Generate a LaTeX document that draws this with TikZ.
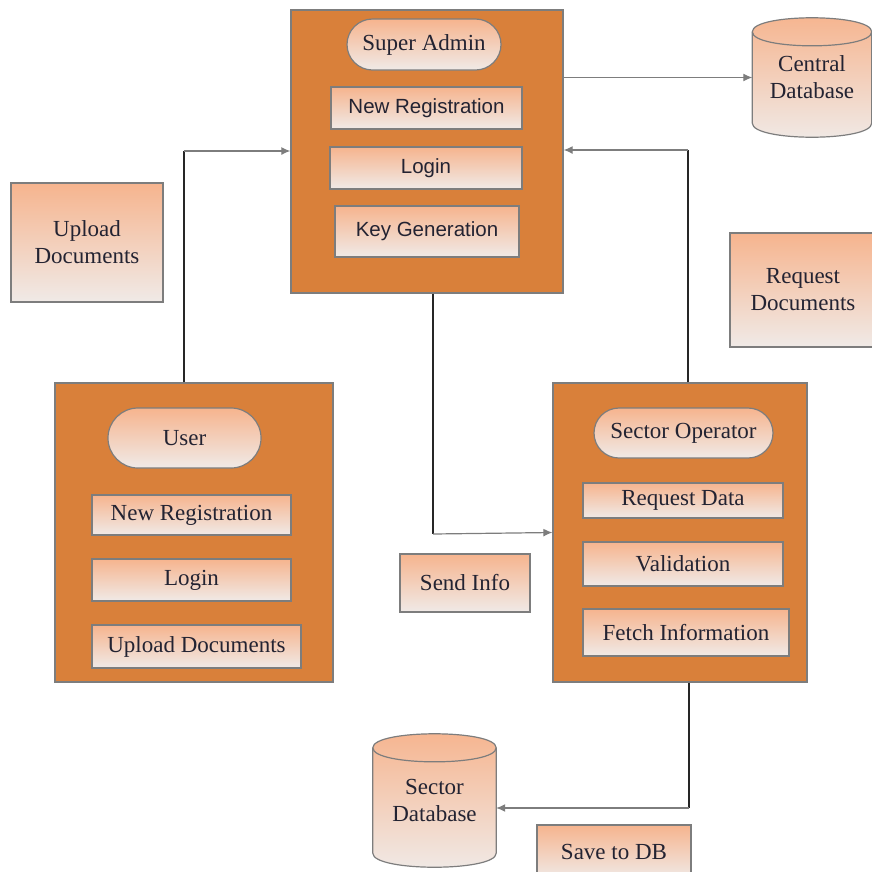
\documentclass[tikz,border=0pt]{standalone}
\usepackage{fontspec}
\setmainfont{Liberation Serif}
\newfontfamily\arialfont{Liberation Sans}
\usetikzlibrary{shapes.misc,arrows.meta,calc,backgrounds}

\definecolor{boxorange}{RGB}{217,128,58}
\definecolor{edgegray}{RGB}{125,125,125}
\definecolor{peach}{RGB}{246,180,142}
\definecolor{paleend}{RGB}{240,234,231}
\definecolor{inkdark}{RGB}{35,35,50}

\tikzset{
  module/.style={draw=edgegray, line width=1.3pt, fill=boxorange},
  item/.style={draw=edgegray, line width=1.2pt, top color=peach, bottom color=paleend,
    text=inkdark, inner sep=0pt, align=center, font=\fontsize{23}{27}\selectfont},
  sansitem/.style={item, font=\arialfont\fontsize{20.5}{24}\selectfont},
  pill/.style={item, rounded rectangle},
  store/.style={text=inkdark, inner sep=0pt, align=center, font=\fontsize{23}{27}\selectfont},
  storebody/.style={draw=edgegray, line width=1.2pt, top color=peach, bottom color=paleend},
  rim/.style={draw=edgegray, line width=1.2pt},
  link/.style={line width=1.2pt, black!85},
  arr/.style={line width=1.2pt, edgegray, -{Latex[length=9pt,width=8pt]}},
}

% cylinder drawn round a named store node (end ellipse: half height 14)
\newcommand{\drawstore}[1]{%
  \begin{pgfonlayer}{background}
  \path[storebody] ($(#1.north west)+(0,14)$) -- ($(#1.south west)+(0,-14)$)
    .. controls +(0,18.7) and +(0,18.7) .. ($(#1.south east)+(0,-14)$)
    -- ($(#1.north east)+(0,14)$)
    .. controls +(0,-18.7) and +(0,-18.7) .. ($(#1.north west)+(0,14)$) -- cycle;
  \draw[rim] ($(#1.north west)+(0,14)$) .. controls +(0,18.7) and +(0,18.7) .. ($(#1.north east)+(0,14)$);
  \end{pgfonlayer}}

\begin{document}
\begin{tikzpicture}[x=1pt,y=-1pt]
\useasboundingbox (0,0) rectangle (872,871);

% super admin
\node[module, minimum width=272, minimum height=283] (admin) at (427,151.5) {};
\node[pill, minimum width=154, minimum height=51] (adminhead) at (424,44.5) {Super Admin};
\node[sansitem, minimum width=191, minimum height=42] (adminreg) at (426.5,108) {New Registration};
\node[sansitem, minimum width=192, minimum height=42] (adminlog) at (426,168) {Login};
\node[sansitem, minimum width=184, minimum height=51] (adminkey) at (427,231.5) {Key Generation};

% user
\node[module, minimum width=278, minimum height=299] (user) at (194,532.5) {};
\node[pill, minimum width=153, minimum height=60] (userhead) at (184.5,438) {User};
\node[item, minimum width=199, minimum height=40] (userreg) at (191.5,515) {New Registration};
\node[item, minimum width=199, minimum height=42] (userlog) at (191.5,580) {Login};
\node[item, minimum width=209, minimum height=43] (userup) at (196.5,646.5) {Upload Documents};

% sector operator
\node[module, minimum width=254, minimum height=299] (oper) at (680,532.5) {};
\node[pill, minimum width=179, minimum height=50] (operhead) at (683.5,433) {Sector Operator};
\node[item, minimum width=200, minimum height=35] (operreq) at (683,500.5) {Request Data};
\node[item, minimum width=200, minimum height=44] (operval) at (683,564) {Validation};
\node[item, minimum width=206, minimum height=47] (operfetch) at (686,632.5) {Fetch Information};

% databases
\node[store, minimum width=119, minimum height=119] (central) at (812,77.5) {Central\\Database};
\drawstore{central}
\node[store, minimum width=123, minimum height=133] (sector) at (434.5,800.5) {Sector\\Database};
\drawstore{sector}

% loose labels
\node[item, minimum width=152, minimum height=119] (uplabel) at (87,242.5) {Upload\\Documents};
\node[item, minimum width=146, minimum height=114] (reqlabel) at (803,290) {Request\\Documents};
\node[item, minimum width=130, minimum height=58] (sendlabel) at (465,583) {Send Info};
\node[item, minimum width=154, minimum height=54] (savelabel) at (614,852) {Save to DB};

% connectors
\coordinate (upturn) at (184,151);
\coordinate (downturn) at (433,534);
\coordinate (reqturn) at (688,150);
\coordinate (saveturn) at (689,808);

\draw[link] (upturn |- user.north) -- (upturn);
\draw[arr] (upturn) -- (upturn -| admin.west);
\draw[link] (downturn |- admin.south) -- (downturn);
\draw[arr] (downturn) -- (oper.west);
\draw[link] (reqturn |- oper.north) -- (reqturn);
\draw[arr] (reqturn) -- (reqturn -| admin.east);
\draw[arr] (admin.east |- central.west) -- (central.west);
\draw[link] (saveturn |- oper.south) -- (saveturn);
\draw[arr] (saveturn) -- (saveturn -| sector.east);

\end{tikzpicture}
\end{document}
